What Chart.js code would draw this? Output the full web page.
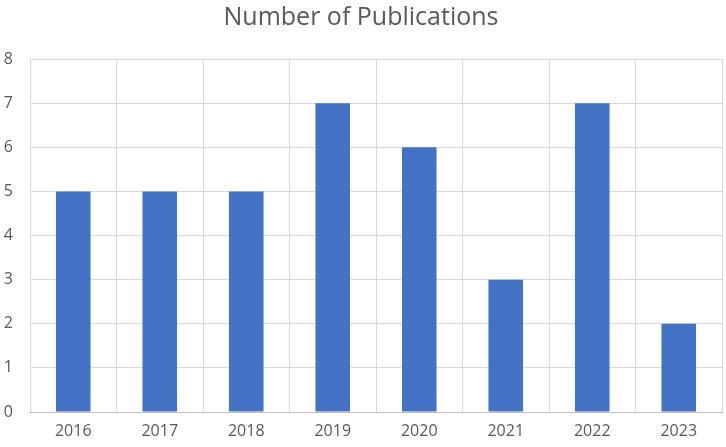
<!DOCTYPE html>
<html>
<head>
<meta charset="utf-8">
<script src="https://cdn.jsdelivr.net/npm/chart.js@4/dist/chart.umd.min.js"></script>
<style>
    html, body { margin: 0; padding: 0; background: #fff; }
    #wrap { width: 726px; height: 447px; }
</style>
</head>
<body>
<div id="wrap"><canvas id="pubChart"></canvas></div>
<script>
const years = ["2016", "2017", "2018", "2019", "2020", "2021", "2022", "2023"];
const publications = [5, 5, 5, 7, 6, 3, 7, 2];
const yTicks = [0, 1, 2, 3, 4, 5, 6, 7, 8];

const font = "'Open Sans', 'Liberation Sans', sans-serif";

new Chart(document.getElementById("pubChart"), {
    type: "bar",
    data: {
        labels: years,
        datasets: [
            {
                label: "Number of Publications",
                data: publications,
                backgroundColor: "#4472C4",
                categoryPercentage: 1,
                barPercentage: 0.4,
            },
        ],
    },
    options: {
        responsive: true,
        maintainAspectRatio: false,
        animation: false,
        layout: { padding: { top: 0, right: 4, bottom: 0, left: 0 } },
        plugins: {
            legend: { display: false },
            tooltip: { enabled: false },
            title: {
                display: true,
                text: "Number of Publications",
                color: "#595959",
                font: { family: font, size: 25, weight: "normal" },
                padding: { top: 3, bottom: 26 },
            },
        },
        scales: {
            x: {
                offset: true,
                grid: { offset: true, color: "#d9d9d9", drawTicks: false },
                border: { color: "#bfbfbf" },
                afterFit: (axis) => {
                    axis.height = 35;
                },
                ticks: {
                    color: "#595959",
                    font: { family: font, size: 16 },
                    padding: 10,
                    maxRotation: 0,
                },
            },
            y: {
                min: 0,
                max: 8,
                afterBuildTicks: (axis) => {
                    axis.ticks = yTicks.map((v) => ({ value: v }));
                },
                afterFit: (axis) => {
                    axis.width = 30;
                },
                grid: { color: "#d9d9d9", drawTicks: false },
                border: { display: false },
                ticks: {
                    color: "#595959",
                    font: { family: font, size: 16 },
                    padding: 17,
                },
            },
        },
    },
});
</script>
</body>
</html>
